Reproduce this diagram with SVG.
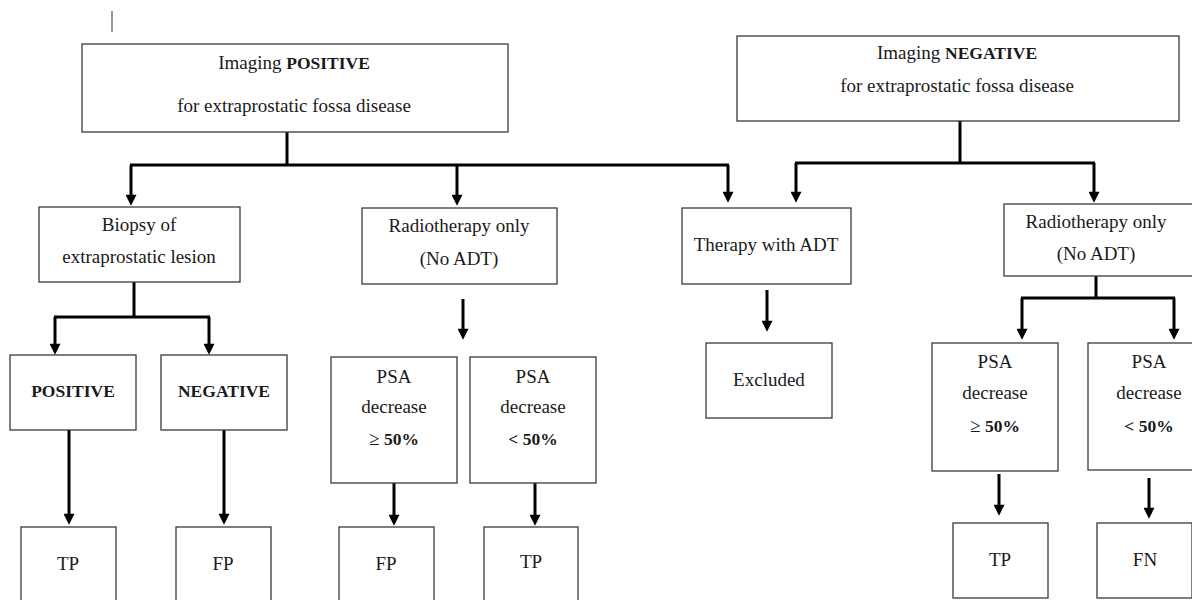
<svg xmlns="http://www.w3.org/2000/svg" width="1192" height="600" viewBox="0 0 1192 600">
<defs>
<style>
.box{fill:#fff;stroke:#3a3a3a;stroke-width:1.3}
.t{font-family:"Liberation Serif","DejaVu Serif",serif;font-size:19px;fill:#1a1a1a;text-anchor:middle}
.b{font-weight:bold;font-size:17.5px}
.c{fill:none;stroke:#000;stroke-width:3}
</style>
<marker id="ah" viewBox="0 0 12 12" refX="8" refY="6" markerWidth="12" markerHeight="11" markerUnits="userSpaceOnUse" orient="auto">
<path d="M0,0 L12,6 L0,12 z" fill="#000"/>
</marker>
</defs>
<rect width="1192" height="600" fill="#fff"/>
<line x1="112" y1="11" x2="112" y2="32" stroke="#555" stroke-width="1.2"/>

<g id="connectors">
<path class="c" d="M287,132 V165"/>
<path class="c" d="M130,165 H729"/>
<path class="c" d="M131,165 V202" marker-end="url(#ah)"/>
<path class="c" d="M457,165 V202" marker-end="url(#ah)"/>
<path class="c" d="M728,165 V199" marker-end="url(#ah)"/>
<path class="c" d="M960,121 V163"/>
<path class="c" d="M795,163 H1095"/>
<path class="c" d="M796,163 V199" marker-end="url(#ah)"/>
<path class="c" d="M1094,163 V199" marker-end="url(#ah)"/>
<path class="c" d="M134,282 V317"/>
<path class="c" d="M54,317 H210"/>
<path class="c" d="M55,317 V351" marker-end="url(#ah)"/>
<path class="c" d="M209,317 V351" marker-end="url(#ah)"/>
<path class="c" d="M463,299 V336" marker-end="url(#ah)"/>
<path class="c" d="M767,290 V328" marker-end="url(#ah)"/>
<path class="c" d="M1096,276 V298"/>
<path class="c" d="M1021,298 H1175"/>
<path class="c" d="M1022,298 V336" marker-end="url(#ah)"/>
<path class="c" d="M1174,298 V336" marker-end="url(#ah)"/>
<path class="c" d="M69,430 V521" marker-end="url(#ah)"/>
<path class="c" d="M224,430 V521" marker-end="url(#ah)"/>
<path class="c" d="M394,483 V522" marker-end="url(#ah)"/>
<path class="c" d="M535,483 V522" marker-end="url(#ah)"/>
<path class="c" d="M999,474 V512" marker-end="url(#ah)"/>
<path class="c" d="M1149,478 V515" marker-end="url(#ah)"/>
</g>

<g id="imaging-positive">
<rect class="box" x="82" y="44" width="426" height="88"/>
<text class="t" x="294" y="69">Imaging <tspan class="b">POSITIVE</tspan></text>
<text class="t" x="294" y="112">for extraprostatic fossa disease</text>
</g>
<g id="imaging-negative">
<rect class="box" x="737" y="36" width="442" height="85"/>
<text class="t" x="957" y="59">Imaging <tspan class="b">NEGATIVE</tspan></text>
<text class="t" x="957" y="92">for extraprostatic fossa disease</text>
</g>
<g id="biopsy">
<rect class="box" x="39" y="207" width="201" height="75"/>
<text class="t" x="139" y="231">Biopsy of</text>
<text class="t" x="139" y="263">extraprostatic lesion</text>
</g>
<g id="rt-left">
<rect class="box" x="362" y="208" width="195" height="76"/>
<text class="t" x="459" y="232">Radiotherapy only</text>
<text class="t" x="459" y="265">(No ADT)</text>
</g>
<g id="adt">
<rect class="box" x="682" y="208" width="169" height="76"/>
<text class="t" x="766" y="251">Therapy with ADT</text>
</g>
<g id="rt-right">
<rect class="box" x="1004" y="204" width="200" height="72"/>
<text class="t" x="1096" y="228">Radiotherapy only</text>
<text class="t" x="1096" y="260">(No ADT)</text>
</g>
<g id="biopsy-positive">
<rect class="box" x="10" y="355" width="126" height="75"/>
<text class="t b" x="73" y="397">POSITIVE</text>
</g>
<g id="biopsy-negative">
<rect class="box" x="161" y="355" width="126" height="75"/>
<text class="t b" x="224" y="397">NEGATIVE</text>
</g>
<g id="psa-a">
<rect class="box" x="331" y="357" width="126" height="126"/>
<text class="t" x="394" y="383">PSA</text>
<text class="t" x="394" y="413">decrease</text>
<text class="t" x="394" y="445">≥ <tspan class="b">50%</tspan></text>
</g>
<g id="psa-b">
<rect class="box" x="470" y="357" width="126" height="126"/>
<text class="t" x="533" y="383">PSA</text>
<text class="t" x="533" y="413">decrease</text>
<text class="t b" x="533" y="445">&lt; 50%</text>
</g>
<g id="excluded">
<rect class="box" x="706" y="343" width="126" height="75"/>
<text class="t" x="769" y="386">Excluded</text>
</g>
<g id="psa-c">
<rect class="box" x="932" y="343" width="126" height="128"/>
<text class="t" x="995" y="368">PSA</text>
<text class="t" x="995" y="399">decrease</text>
<text class="t" x="995" y="432">≥ <tspan class="b">50%</tspan></text>
</g>
<g id="psa-d">
<rect class="box" x="1088" y="343" width="126" height="127"/>
<text class="t" x="1149" y="368">PSA</text>
<text class="t" x="1149" y="399">decrease</text>
<text class="t b" x="1149" y="432">&lt; 50%</text>
</g>
<g id="tp-1">
<rect class="box" x="21" y="527" width="95" height="80"/>
<text class="t" x="68" y="570">TP</text>
</g>
<g id="fp-1">
<rect class="box" x="176" y="527" width="95" height="80"/>
<text class="t" x="223" y="570">FP</text>
</g>
<g id="fp-2">
<rect class="box" x="339" y="527" width="95" height="80"/>
<text class="t" x="386" y="570">FP</text>
</g>
<g id="tp-2">
<rect class="box" x="484" y="527" width="94" height="80"/>
<text class="t" x="531" y="568">TP</text>
</g>
<g id="tp-3">
<rect class="box" x="953" y="523" width="95" height="75"/>
<text class="t" x="1000" y="566">TP</text>
</g>
<g id="fn">
<rect class="box" x="1097" y="523" width="95" height="75"/>
<text class="t" x="1145" y="566">FN</text>
</g>
</svg>
